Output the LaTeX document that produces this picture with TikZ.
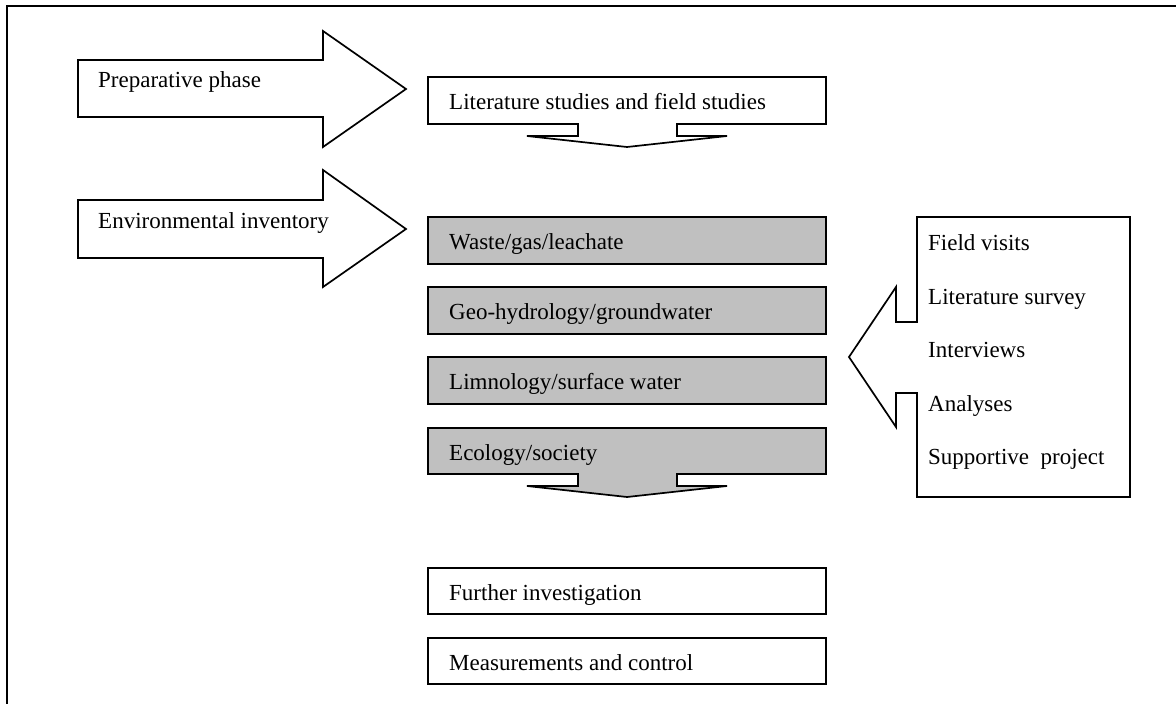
\documentclass[tikz,border=0pt]{standalone}
\usepackage{fontspec}
\setmainfont{Liberation Serif}
\definecolor{boxgray}{RGB}{192,192,192}
\tikzset{
  shapeline/.style={draw=black, line width=1.7pt, line join=miter},
  grayshape/.style={shapeline, fill=boxgray},
  whiteshape/.style={shapeline, fill=white},
  lbl/.style={anchor=base west, inner sep=0pt, font=\fontsize{23}{27}\selectfont},
  frameline/.style={draw=black, line width=2.4pt},
}
\begin{document}
\begin{tikzpicture}[x=1pt, y=-1pt]
\useasboundingbox (0,0) rectangle (1176,704);
\fill[white] (0,0) rectangle (1176,704);
% outer frame (only top and left visible)
\draw[frameline] (1180,6) -- (7,6) -- (7,708);

% left block arrows
\path[whiteshape] (78,60) -- (323,60) -- (323,31) -- (406,89) -- (323,147) -- (323,117) -- (78,117) -- cycle;
\path[whiteshape] (78,200) -- (323,200) -- (323,170) -- (406,229) -- (323,287) -- (323,258) -- (78,258) -- cycle;
\node[lbl] (prep) at (98,87) {Preparative phase};
\node[lbl] (envinv) at (98,228) {Environmental inventory};

% literature box with down arrow
\path[whiteshape] (428,77) -- (826,77) -- (826,124) -- (677,124) -- (677,136) -- (727,136) -- (627,147) -- (527,136) -- (578,136) -- (578,124) -- (428,124) -- cycle;
\node[lbl] (lit) at (449,109) {Literature studies and field studies};

% gray boxes
\path[grayshape] (428,217) rectangle (826,264);
\path[grayshape] (428,287) rectangle (826,334);
\path[grayshape] (428,357) rectangle (826,404);
\path[grayshape] (428,428) -- (826,428) -- (826,474) -- (677,474) -- (677,486) -- (727,486) -- (627,497) -- (527,486) -- (578,486) -- (578,474) -- (428,474) -- cycle;
\node[lbl] (waste) at (449,249) {Waste/gas/leachate};
\node[lbl] (geo) at (449,319) {Geo-hydrology/groundwater};
\node[lbl] (limno) at (449,389) {Limnology/surface water};
\node[lbl] (eco) at (449,460) {Ecology/society};

% bottom boxes
\path[whiteshape] (428,568) rectangle (826,614);
\path[whiteshape] (428,638) rectangle (826,684);
\node[lbl] (further) at (449,600) {Further investigation};
\node[lbl] (meas) at (449,670) {Measurements and control};

% right panel with left-pointing arrow
\path[whiteshape] (917,217) -- (1130,217) -- (1130,497) -- (917,497) -- (917,393) -- (896,393) -- (896,427) -- (849,357) -- (896,287) -- (896,322) -- (917,322) -- cycle;
\node[lbl] (fv) at (928,250) {Field visits};
\node[lbl] (ls) at (928,304) {Literature survey};
\node[lbl] (iv) at (928,357) {Interviews};
\node[lbl] (an) at (928,411) {Analyses};
\node[lbl] (sp) at (928,464) {Supportive\ \ project};
\end{tikzpicture}
\end{document}
